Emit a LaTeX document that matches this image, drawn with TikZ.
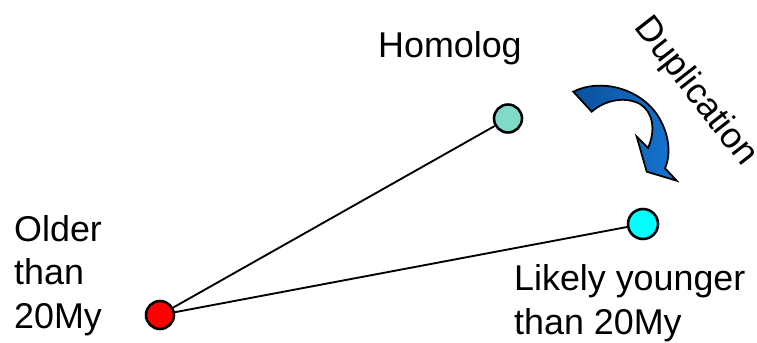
\documentclass[tikz,border=0pt]{standalone}
\usepackage{fontspec}
\setmainfont{Liberation Sans}
\definecolor{oldred}{RGB}{255,0,0}
\definecolor{homteal}{RGB}{128,218,200}
\definecolor{youngcyan}{RGB}{0,255,255}
\definecolor{dupdark}{RGB}{10,80,155}
\definecolor{duplight}{RGB}{22,118,210}
\begin{document}
\begin{tikzpicture}[x=0.03cm,y=-0.03cm,
    dot/.style={circle,draw=black,line width=2.2pt,inner sep=0pt,minimum size=0.84cm},
    link/.style={line width=1.6pt},
    lbl/.style={inner sep=0pt,font=\fontsize{30.6}{37}\selectfont}]
    \useasboundingbox (0,0) rectangle (757,343);
    % 三个基因点
    \node[dot,fill=oldred] (old) at (160,315) {};
    \node[dot,fill=homteal] (hom) at (508,118.5) {};
    \node[dot,fill=youngcyan,minimum size=0.9cm] (young) at (643,224) {};
    % 连线
    \draw[link] (old) -- (hom);
    \draw[link] (old) -- (young);
    % 标签 (多行标签以末行基线定位)
    \node[lbl,anchor=base west] (homlbl) at (378,58) {Homolog};
    \node[lbl,anchor=base west,align=left] (oldlbl) at (14,328) {Older\\than\\20My};
    \node[lbl,anchor=base west,align=left] (younglbl) at (514,334) {Likely younger\\than 20My};
    \node[lbl,rotate=-52] (duplbl) at (695,92) {Duplication};
    % 弯箭头
    \draw[line width=1.5pt,line join=miter,left color=dupdark,right color=duplight]
        (573.3,91.7) .. controls (600,78) and (640,88) .. (658,116)
        .. controls (668,132) and (672,152) .. (665,168.3)
        -- (676.7,180.7) -- (646.7,171.7) -- (636.7,136.7) -- (648,148)
        .. controls (656,130) and (653,112) .. (640,104)
        .. controls (625,96) and (605,100) .. (591.7,111.7) -- cycle;
\end{tikzpicture}
\end{document}
